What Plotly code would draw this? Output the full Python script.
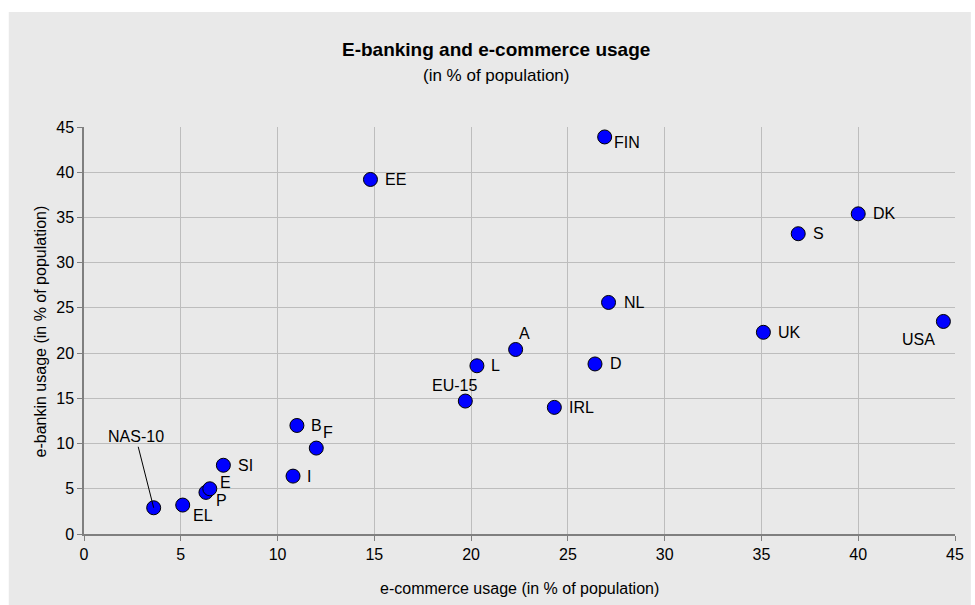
import plotly.graph_objects as go

# ---- data ----
countries = ["NAS-10", "EL", "P", "E", "SI", "I", "B", "F", "EE", "EU-15",
             "L", "A", "IRL", "D", "NL", "FIN", "UK", "S", "DK", "USA"]
ecommerce = [3.6, 5.1, 6.3, 6.5, 7.2, 10.8, 11.0, 12.0, 14.8, 19.7,
             20.3, 22.3, 24.3, 26.4, 27.1, 26.9, 35.1, 36.9, 40.0, 44.4]
ebanking = [2.9, 3.2, 4.6, 5.0, 7.6, 6.4, 12.0, 9.5, 39.2, 14.7,
            18.6, 20.4, 14.0, 18.8, 25.6, 43.9, 22.3, 33.2, 35.4, 23.5]
axis_ticks = [0, 5, 10, 15, 20, 25, 30, 35, 40, 45]

# ---- label placement (pixel offsets of label relative to marker) ----
label_style = {
    "EL": ("left", 8, -10), "P": ("left", 8, -8), "E": ("left", 8, 6),
    "SI": ("left", 13, 0), "I": ("left", 12, 0), "B": ("left", 12, 0),
    "F": ("center", 12, 16), "EE": ("left", 13, 0), "EU-15": ("center", -11, 16),
    "L": ("left", 12, 0), "A": ("center", 9, 16), "IRL": ("left", 13, 0),
    "D": ("left", 13, 0), "NL": ("left", 13, 0), "FIN": ("left", 7, -6),
    "UK": ("left", 13, 0), "S": ("left", 13, 0), "DK": ("left", 13, 0),
    "USA": ("center", -25, -18),
}

FONT = "Liberation Sans, Arial, sans-serif"
W, H = 975, 605
ML, MR, MT, MB = 84, 11, 127, 71
pw, ph = W - ML - MR, H - MT - MB

def px_x(p):
    return (p - ML) / pw

def px_y(p):
    return (H - MB - p) / ph

fig = go.Figure()
fig.add_trace(go.Scatter(
    x=ecommerce, y=ebanking, mode="markers",
    marker=dict(size=14, color="#0000FF", line=dict(color="#000000", width=1)),
    hoverinfo="text", text=countries, showlegend=False,
))

annotations = []
for name, xv, yv in zip(countries, ecommerce, ebanking):
    if name == "NAS-10":
        annotations.append(dict(
            x=xv, y=yv, xref="x", yref="y", text=name, showarrow=True,
            arrowhead=0, arrowwidth=1, arrowcolor="#000000", ax=-18, ay=-71,
            standoff=0, font=dict(family=FONT, size=16, color="#000000"),
        ))
        continue
    anc, dx, dy = label_style[name]
    annotations.append(dict(
        x=xv, y=yv, xref="x", yref="y", text=name, showarrow=False,
        xanchor=anc, yanchor="middle", xshift=dx, yshift=dy,
        font=dict(family=FONT, size=16, color="#000000"),
    ))

# titles
annotations += [
    dict(x=px_x(500), y=px_y(49), xref="paper", yref="paper", showarrow=False,
         text="<b>E-banking and e-commerce usage</b>", xanchor="center", yanchor="middle",
         font=dict(family=FONT, size=19, color="#000000")),
    dict(x=px_x(500), y=px_y(75), xref="paper", yref="paper", showarrow=False,
         text="(in % of population)", xanchor="center", yanchor="middle",
         font=dict(family=FONT, size=17, color="#000000")),
    dict(x=px_x(524), y=px_y(588), xref="paper", yref="paper", showarrow=False,
         text="e-commerce usage (in % of population)", xanchor="center", yanchor="middle",
         font=dict(family=FONT, size=16, color="#000000")),
    dict(x=px_x(40), y=px_y(331), xref="paper", yref="paper", showarrow=False,
         text="e-bankin usage (in % of population)", textangle=-90,
         xanchor="center", yanchor="middle",
         font=dict(family=FONT, size=16, color="#000000")),
]

shapes = [
    dict(type="rect", xref="paper", yref="paper",
         x0=px_x(8), x1=px_x(980), y0=px_y(610), y1=px_y(12),
         fillcolor="#E9E9E9", line=dict(width=0), layer="below"),
]

axis_common = dict(
    tickvals=axis_ticks, ticktext=[str(t) for t in axis_ticks],
    showgrid=True, gridcolor="#BDBDBD", gridwidth=1,
    zeroline=False, showline=True, linecolor="#7F7F7F", linewidth=1.5,
    ticks="outside", ticklen=5, tickcolor="#7F7F7F", tickwidth=1,
    tickfont=dict(family=FONT, size=16, color="#000000"),
)

fig.update_layout(
    width=W, height=H,
    margin=dict(l=ML, r=MR, t=MT, b=MB, pad=0),
    paper_bgcolor="#FFFFFF", plot_bgcolor="#E9E9E9",
    xaxis=dict(range=[0, 45], **axis_common),
    yaxis=dict(range=[0, 45], **axis_common),
    annotations=annotations, shapes=shapes,
    showlegend=False,
)

fig.write_html("out.html")
